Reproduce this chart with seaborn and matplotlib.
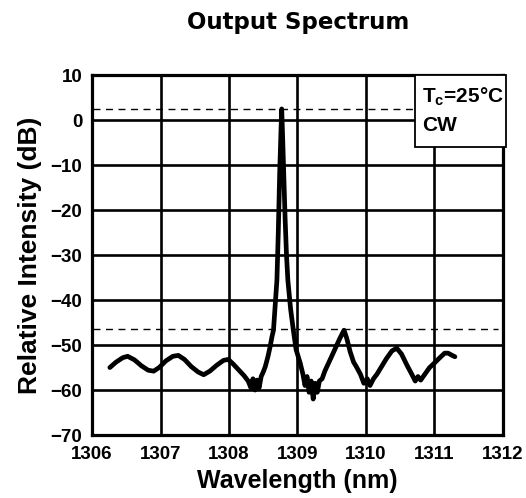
import numpy as np
import pandas as pd
import matplotlib
matplotlib.use('Agg')
import matplotlib.pyplot as plt
from matplotlib.patches import Rectangle
import seaborn as sns

# spectrum
wavelength = [1306.26, 1306.35, 1306.45, 1306.52, 1306.62, 1306.72, 1306.82, 1306.90, 1306.98,
              1307.08, 1307.18, 1307.26, 1307.35, 1307.45, 1307.55, 1307.63, 1307.72, 1307.82,
              1307.92, 1307.99, 1308.06, 1308.14, 1308.22, 1308.28, 1308.32, 1308.35, 1308.38,
              1308.41, 1308.44, 1308.47, 1308.50, 1308.53, 1308.57, 1308.60, 1308.63, 1308.65,
              1308.68, 1308.70, 1308.72, 1308.74, 1308.76, 1308.77, 1308.78, 1308.80, 1308.82,
              1308.84, 1308.86, 1308.90, 1308.94, 1308.98, 1309.04, 1309.08, 1309.11, 1309.14,
              1309.17, 1309.20, 1309.23, 1309.26, 1309.29, 1309.32, 1309.36, 1309.40, 1309.43,
              1309.50, 1309.56, 1309.62, 1309.68, 1309.72, 1309.77, 1309.82, 1309.86, 1309.92,
              1309.97, 1310.02, 1310.06, 1310.11, 1310.16, 1310.22, 1310.30, 1310.38, 1310.45,
              1310.52, 1310.60, 1310.67, 1310.72, 1310.76, 1310.80, 1310.86, 1310.93, 1311.00,
              1311.08, 1311.15, 1311.20, 1311.26, 1311.30]
intensity = [-55.0, -53.8, -52.8, -52.5, -53.3, -54.6, -55.6, -55.8, -55.0,
             -53.5, -52.5, -52.3, -53.2, -54.8, -56.0, -56.6, -55.8, -54.5,
             -53.4, -53.2, -54.2, -55.5, -56.8, -58.0, -59.5, -57.5, -60.0,
             -57.8, -59.5, -57.0, -56.0, -54.8, -52.5, -50.4, -48.0, -46.7,
             -40.0, -35.6, -25.0, -12.0, -2.0, 2.5, -2.0, -12.0, -22.0,
             -30.0, -35.6, -42.0, -46.7, -51.0, -54.0, -56.5, -59.0, -57.0,
             -60.5, -58.0, -62.0, -58.5, -60.5, -58.0, -57.5, -55.8, -54.8,
             -52.5, -50.5, -48.5, -46.7, -48.5, -51.5, -53.8, -54.8, -56.5,
             -58.5, -57.5, -59.0, -57.5, -56.5, -55.0, -53.0, -51.3, -50.7,
             -52.0, -54.5, -56.5, -58.0, -57.0, -57.8, -56.5, -55.0, -54.0,
             -52.8, -51.8, -51.8, -52.3, -52.6]
ref_levels = [2.5, -46.5]
x_ticks = [1306, 1307, 1308, 1309, 1310, 1311, 1312]
y_ticks = [10, 0, -10, -20, -30, -40, -50, -60, -70]

df = pd.DataFrame({'Wavelength': wavelength, 'Intensity': intensity})

sns.set_style('white')
plt.rcParams['font.family'] = ['Liberation Sans', 'DejaVu Sans']
plt.rcParams.update({'text.color': 'black', 'axes.labelcolor': 'black',
                     'xtick.color': 'black', 'ytick.color': 'black'})
plt.rcParams['mathtext.fontset'] = 'custom'
plt.rcParams['mathtext.rm'] = 'Liberation Sans:bold'
plt.rcParams['mathtext.it'] = 'Liberation Sans:bold'
plt.rcParams['mathtext.default'] = 'rm'

fig = plt.figure(figsize=(5.26, 4.98), dpi=100)
ax = fig.add_axes([0.175, 0.1265, 0.781, 0.7225])

for yv in y_ticks:
    ax.axhline(yv, color='black', lw=1.9, zorder=1)
for xv in x_ticks:
    ax.axvline(xv, color='black', lw=1.9, zorder=1)
for lv in ref_levels:
    ax.axhline(lv, xmin=0.003, xmax=0.988, color='black', lw=1.0, ls=(0, (5, 4)), zorder=2)

sns.lineplot(data=df, x='Wavelength', y='Intensity', ax=ax, color='black', lw=3.4, zorder=3)

ax.set_xlim(1306, 1312)
ax.set_ylim(-70, 10)
ax.set_xticks(x_ticks)
ax.set_yticks(y_ticks)
ax.tick_params(length=0, labelsize=13.5)
ax.tick_params(axis='x', pad=8)
ax.tick_params(axis='y', pad=7)
for lab in ax.get_xticklabels() + ax.get_yticklabels():
    lab.set_fontweight('bold')
for sp in ax.spines.values():
    sp.set_linewidth(2.3)
    sp.set_color('black')

ax.set_xlabel('Wavelength (nm)', fontsize=18, fontweight='bold', labelpad=4)
ax.set_ylabel('Relative Intensity (dB)', fontsize=19, fontweight='bold', labelpad=6)

# condition box
ax.add_patch(Rectangle((0.786, 0.8), 0.222, 0.2, transform=ax.transAxes, facecolor='white',
                       edgecolor='black', lw=1.3, zorder=5, clip_on=False))
ax.text(0.803, 0.939, r'T$_c$=25°C', transform=ax.transAxes, fontsize=15,
        fontweight='bold', va='center', ha='left', zorder=6)
ax.text(0.803, 0.861, 'CW', transform=ax.transAxes, fontsize=15,
        fontweight='bold', va='center', ha='left', zorder=6)

fig.text(0.566, 0.954, 'Output Spectrum', ha='center', va='center', fontsize=16.5,
         fontweight='bold', family='DejaVu Sans')

fig.savefig('out.png', dpi=100)
